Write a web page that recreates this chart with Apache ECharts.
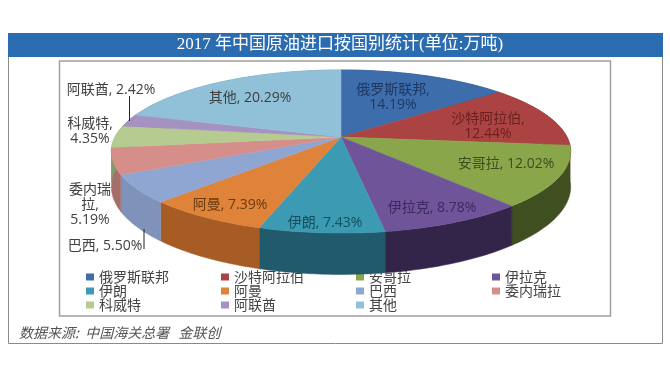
<!DOCTYPE html>
<html>
<head>
<meta charset="utf-8">
<style>
html, body { margin: 0; padding: 0; background: #fff; }
#chart { width: 670px; height: 380px; }
</style>
<script src="https://cdn.jsdelivr.net/npm/echarts@6/dist/echarts.min.js"></script>
</head>
<body>
<div id="chart"></div>
<script>
// values in percent, clockwise from 12 o'clock
const countries = ["俄罗斯联邦", "沙特阿拉伯", "安哥拉", "伊拉克", "伊朗", "阿曼", "巴西", "委内瑞拉", "科威特", "阿联酋", "其他"];
const shares = [14.19, 12.44, 12.02, 8.78, 7.43, 7.39, 5.50, 5.19, 4.35, 2.42, 20.29];
const legendColumns = [
    ["俄罗斯联邦", "伊朗", "科威特"],
    ["沙特阿拉伯", "阿曼", "阿联酋"],
    ["安哥拉", "巴西", "其他"],
    ["伊拉克", "委内瑞拉"],
];

const topColors = ["#3e6dab", "#aa4341", "#8aa64b", "#70549a", "#3c9ab2", "#e0833a", "#8fa6d2", "#d68e8b", "#b6cb8f", "#a592c2", "#90c1d8"];
const wallColors = ["#2c4f7c", "#7a2f2e", "#3f4f20", "#33254a", "#215a6c", "#a65c24", "#7f93ba", "#a56e6d", "#87996a", "#7a6b90", "#6c91a3"];
const textColors = ["#1f3864", "#6b1f1f", "#3d4c1c", "#3a2a5c", "#134f5c", "#6a3a10", "#404040", "#404040", "#404040", "#404040", "#404040"];

// label text and where it sits on the page
const labelTexts = [
    "俄罗斯联邦,\n14.19%", "沙特阿拉伯,\n12.44%", "安哥拉, 12.02%", "伊拉克, 8.78%", "伊朗, 7.43%", "阿曼, 7.39%",
    "巴西, 5.50%", "委内瑞\n拉,\n5.19%", "科威特,\n4.35%", "阿联酋, 2.42%", "其他, 20.29%",
];
const labelSpots = [[393, 98], [488, 127], [506, 164], [432, 208], [325, 223], [230, 205], [105, 246], [90, 205], [90, 132], [111, 90], [250, 98]];

// tilted pie seen in perspective
const cx = 341, cy = 137, radX = 226, radY = 79, persp = 0.178, depth = 34;
const labelFont = '"Open Sans", "Noto Sans CJK SC", sans-serif';

function project(deg, drop) {
    const a = deg * Math.PI / 180;
    const w = 1 + persp * Math.cos(a);
    return [cx + radX * Math.sin(a) / w, cy - radY * Math.cos(a) / w + drop / w];
}

function rim(from, to, drop) {
    const pts = [];
    const n = Math.max(2, Math.ceil(to - from));
    for (let i = 0; i <= n; i++) pts.push(project(from + (to - from) * i / n, drop));
    return pts;
}

const series = countries.map((name, idx) => {
    const before = shares.slice(0, idx).reduce((s, v) => s + v, 0);
    return {
        name: name,
        type: "custom",
        coordinateSystem: "none",
        z: 2,
        silent: true,
        animation: false,
        itemStyle: { color: topColors[idx] },
        data: [[shares[idx]]],
        renderItem: (params, api) => {
            const from = before * 3.6;
            const to = from + api.value(0) * 3.6;
            const edge = rim(from, to, 0);
            return {
                type: "group",
                children: [
                    {
                        type: "polygon",
                        z2: 1,
                        shape: { points: edge.concat(rim(from, to, depth).reverse()) },
                        style: { fill: wallColors[idx], stroke: wallColors[idx], lineWidth: 0.5 },
                    },
                    {
                        type: "polygon",
                        z2: 2,
                        shape: { points: [[cx, cy]].concat(edge) },
                        style: { fill: topColors[idx], stroke: topColors[idx], lineWidth: 0.5 },
                    },
                    {
                        type: "text",
                        z2: 3,
                        style: {
                            text: labelTexts[idx],
                            x: labelSpots[idx][0],
                            y: labelSpots[idx][1],
                            align: "center",
                            verticalAlign: "middle",
                            fontSize: 14,
                            fontFamily: labelFont,
                            lineHeight: 15,
                            fill: textColors[idx],
                        },
                    },
                ],
            };
        },
    };
});

const columnLeft = [86, 221, 356, 492];

const option = {
    animation: false,
    title: {
        text: "2017 年中国原油进口按国别统计(单位:万吨)",
        left: 340,
        top: 45,
        textAlign: "center",
        textVerticalAlign: "middle",
        padding: 0,
        textStyle: { color: "#fff", fontSize: 17, fontWeight: "normal", fontFamily: '"Liberation Serif", "Noto Sans CJK SC", serif' },
    },
    legend: legendColumns.map((names, i) => ({
        data: names,
        orient: "vertical",
        left: columnLeft[i],
        top: 270,
        z: 1,
        padding: 0,
        itemGap: 0,
        itemWidth: 8,
        itemHeight: 7,
        icon: "rect",
        selectedMode: false,
        textStyle: { fontSize: 14, lineHeight: 14, color: "#444", fontFamily: '"Noto Sans CJK SC", sans-serif' },
    })),
    graphic: [
        { type: "rect", z: 0, shape: { x: 8.5, y: 33.5, width: 654, height: 310 }, style: { fill: "#fff", stroke: "#8a8a8a", lineWidth: 1 } },
        { type: "rect", z: 0, shape: { x: 8, y: 33, width: 655, height: 24 }, style: { fill: "#2b6cb0" } },
        { type: "rect", z: 0, shape: { x: 59.5, y: 61, width: 551, height: 255 }, style: { fill: "#fff", stroke: "#a0a0a0", lineWidth: 1.5 } },
        { type: "line", z: 5, shape: { x1: 129.5, y1: 96, x2: 129.5, y2: 121 }, style: { stroke: "#222", lineWidth: 1 } },
        { type: "line", z: 5, shape: { x1: 144, y1: 229, x2: 144, y2: 249 }, style: { stroke: "#222", lineWidth: 1 } },
        {
            type: "text",
            z: 5,
            style: {
                text: "数据来源:  中国海关总署   金联创",
                x: 19,
                y: 333,
                verticalAlign: "middle",
                fontSize: 14,
                fontStyle: "italic",
                fontFamily: '"Noto Sans CJK SC", sans-serif',
                fill: "#555",
            },
        },
    ],
    series: series,
};

const myChart = echarts.init(document.getElementById("chart"));
myChart.setOption(option);
</script>
</body>
</html>
